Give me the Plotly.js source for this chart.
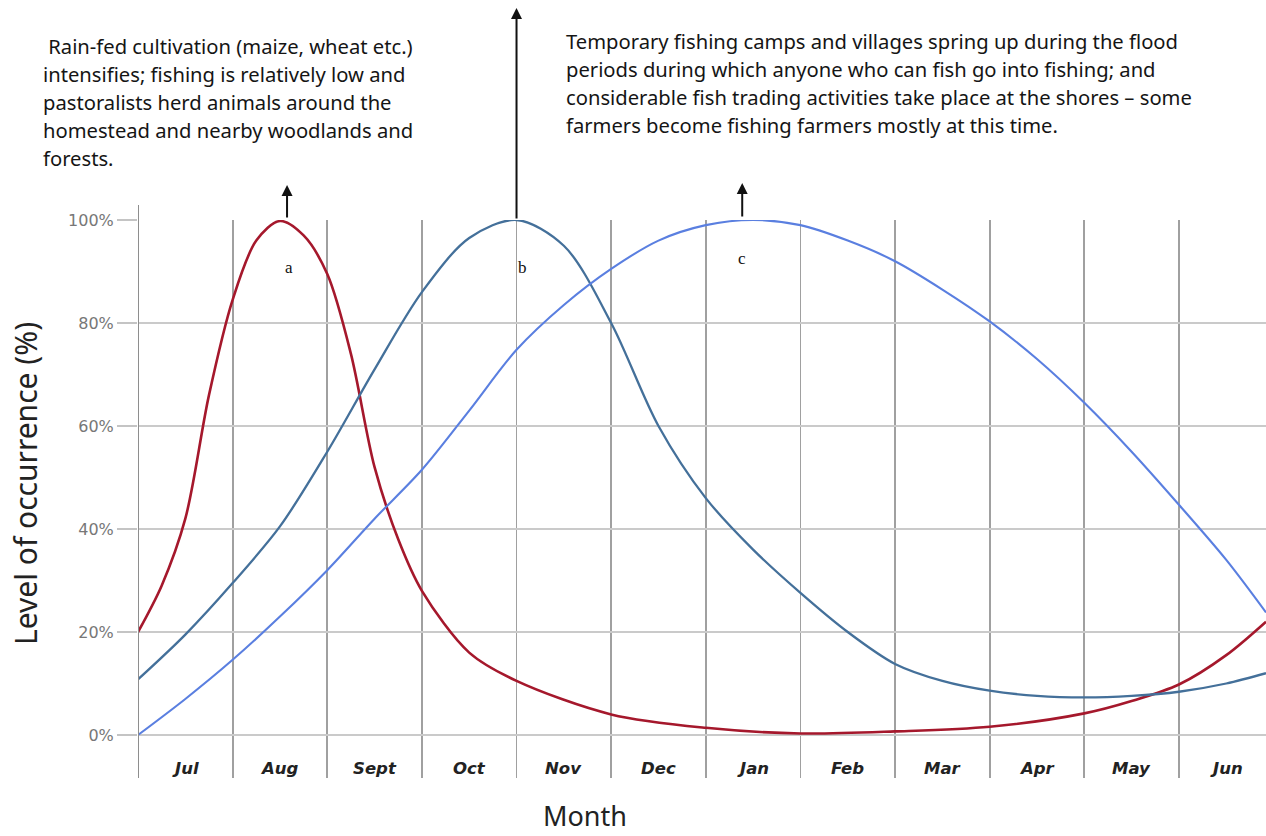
<!DOCTYPE html>
<html>
<head>
<meta charset="utf-8">
<script src="https://cdn.plot.ly/plotly-3.0.1.min.js"></script>
<style>html,body{margin:0;padding:0;background:#fff;}#chart{width:1266px;height:836px;}</style>
</head>
<body>
<div id="chart"></div>
<script>
// Month columns (x = 0 at start of Jul, 1 unit per month)
const months = ["Jul","Aug","Sept","Oct","Nov","Dec","Jan","Feb","Mar","Apr","May","Jun"];
const yTickVals = [0, 20, 40, 60, 80, 100];
const yTickText = ["0%", "20%", "40%", "60%", "80%", "100%"];

// Curve a (red): rain-fed cultivation
const aX = [0, 0.25, 0.5, 0.75, 1.0, 1.25, 1.5, 1.75, 2.0, 2.25, 2.5, 2.75, 3.0, 3.5, 4.0, 5.0, 6.0, 7.0, 8.0, 9.0, 10.0, 10.5, 11.0, 11.5, 11.92];
const aY = [20, 29, 42, 66, 84.5, 96, 99.8, 97, 89.5, 74, 52, 38, 28, 16, 10.5, 4, 1.4, 0.3, 0.7, 1.6, 4.2, 6.6, 9.8, 15.5, 22];

// Curve b (steel blue)
const bX = [0, 0.5, 1.0, 1.5, 2.0, 2.5, 3.0, 3.5, 4.0, 4.5, 5.0, 5.5, 6.0, 6.5, 7.0, 7.5, 8.0, 8.5, 9.0, 9.5, 10.0, 10.5, 11.0, 11.5, 11.92];
const bY = [10.8, 19.5, 29.5, 40.5, 55, 71, 86, 96.5, 100, 95, 80, 60, 46, 36, 27.6, 20, 13.8, 10.5, 8.6, 7.6, 7.3, 7.6, 8.4, 10, 12];

// Curve c (light blue)
const cX = [0, 0.5, 1.0, 1.5, 2.0, 2.5, 3.0, 3.5, 4.0, 4.5, 5.0, 5.5, 6.0, 6.5, 7.0, 7.5, 8.0, 8.5, 9.0, 9.5, 10.0, 10.5, 11.0, 11.5, 11.92];
const cY = [0, 7, 14.6, 23, 32, 42, 51.5, 63, 74.8, 83.5, 90.5, 96, 99, 100, 99, 96, 92, 86.5, 80.3, 73, 64.5, 55, 44.7, 34, 23.8];

// Peak markers (arrows) and letters
const peakLetters = ["a", "b", "c"];
const peakX = [1.575, 4.0, 6.385];
const letterX = [1.6, 4.06, 6.385];
const letterY = [90.7, 90.7, 92.6];

const leftText = [" Rain-fed cultivation (maize, wheat etc.)",
  "intensifies; fishing is relatively low and",
  "pastoralists herd animals around the",
  "homestead and nearby woodlands and",
  "forests."];
const rightText = ["Temporary fishing camps and villages spring up during the flood",
  "periods during which anyone who can fish go into fishing; and",
  "considerable fish trading activities take place at the shores \u2013 some",
  "farmers become fishing farmers mostly at this time."];

const W = 1266, H = 836, mL = 138, mR = 0, mT = 220, mB = 58;
const plotH = H - mT - mB;
function paperY(px) { return (H - mB - px) / plotH; }
function paperX(px) { return (px - mL) / (W - mL - mR); }

const traces = [
  {x: aX, y: aY, mode: "lines", line: {color: "#a5182c", width: 2.6, shape: "spline", smoothing: 0.9}, hoverinfo: "skip"},
  {x: bX, y: bY, mode: "lines", line: {color: "#44709a", width: 2.3, shape: "spline", smoothing: 0.9}, hoverinfo: "skip"},
  {x: cX, y: cY, mode: "lines", line: {color: "#5a7fe0", width: 2.1, shape: "spline", smoothing: 0.9}, hoverinfo: "skip"}
];

const annotations = [];
const textFont = {family: "Noto Sans, Open Sans, sans-serif", size: 20.2, color: "#151515"};
leftText.forEach((t, i) => annotations.push({xref: "paper", yref: "paper", x: paperX(41), y: paperY(46 + 28 * i),
  xanchor: "left", yanchor: "middle", text: t, showarrow: false, font: textFont}));
rightText.forEach((t, i) => annotations.push({xref: "paper", yref: "paper", x: paperX(564), y: paperY(41 + 28 * i),
  xanchor: "left", yanchor: "middle", text: t, showarrow: false, font: textFont}));

// month labels
months.forEach((m, i) => annotations.push({x: i + 0.5, y: -6.5, xref: "x", yref: "y", text: "<b><i>" + m + "</i></b>",
  showarrow: false, font: {family: "DejaVu Sans, sans-serif", size: 16.5, color: "#222"}}));

// arrows (tip positions in pixels above the chart top)
const arrowTipPx = [185, 8, 183];
const arrowTailPx = [219, 220, 218];
peakX.forEach((px, i) => annotations.push({x: px, y: paperY(arrowTipPx[i]), xref: "x", yref: "paper",
  ax: 0, ay: arrowTailPx[i] - arrowTipPx[i],
  text: "", showarrow: true, arrowhead: 2, arrowsize: 1.1, arrowwidth: 2, arrowcolor: "#111"}));
peakLetters.forEach((l, i) => annotations.push({x: letterX[i], y: letterY[i], xref: "x", yref: "y", text: l, showarrow: false,
  font: {family: "Liberation Serif, serif", size: 17, color: "#111"}}));

// axis titles
annotations.push({xref: "paper", yref: "paper", x: paperX(25), y: paperY(484), xanchor: "center", yanchor: "middle",
  text: "Level of occurrence (%)", textangle: -90, showarrow: false,
  font: {family: "Noto Sans, Open Sans, sans-serif", size: 30, color: "#222"}});
annotations.push({xref: "paper", yref: "paper", x: paperX(585), y: paperY(815), xanchor: "center", yanchor: "middle",
  text: "Month", showarrow: false, font: {family: "Noto Sans, Open Sans, sans-serif", size: 27, color: "#222"}});

const layout = {
  width: W, height: H,
  margin: {l: mL, r: mR, t: mT, b: mB},
  paper_bgcolor: "#fff", plot_bgcolor: "#fff",
  showlegend: false,
  xaxis: {range: [0, 11.92], tickvals: [0,1,2,3,4,5,6,7,8,9,10,11], showticklabels: false, ticks: "",
    showgrid: true, gridcolor: "#a0a0a0", gridwidth: 1.8, zeroline: false, showline: false},
  yaxis: {range: [-8.35, 100], tickvals: yTickVals, ticktext: yTickText, ticks: "outside", ticklen: 20, tickwidth: 1.5,
    tickcolor: "#c4c4c4", showgrid: true, gridcolor: "#cacaca", gridwidth: 1.5, zeroline: false, showline: false,
    tickfont: {family: "DejaVu Sans, sans-serif", size: 16, color: "#777"}},
  shapes: [
    {type: "line", xref: "x", yref: "paper", x0: 0, x1: 0, y0: 0, y1: paperY(205), line: {color: "#8e8e8e", width: 2}}
  ],
  annotations: annotations
};

Plotly.newPlot("chart", traces, layout, {staticPlot: true});
</script>
</body>
</html>
